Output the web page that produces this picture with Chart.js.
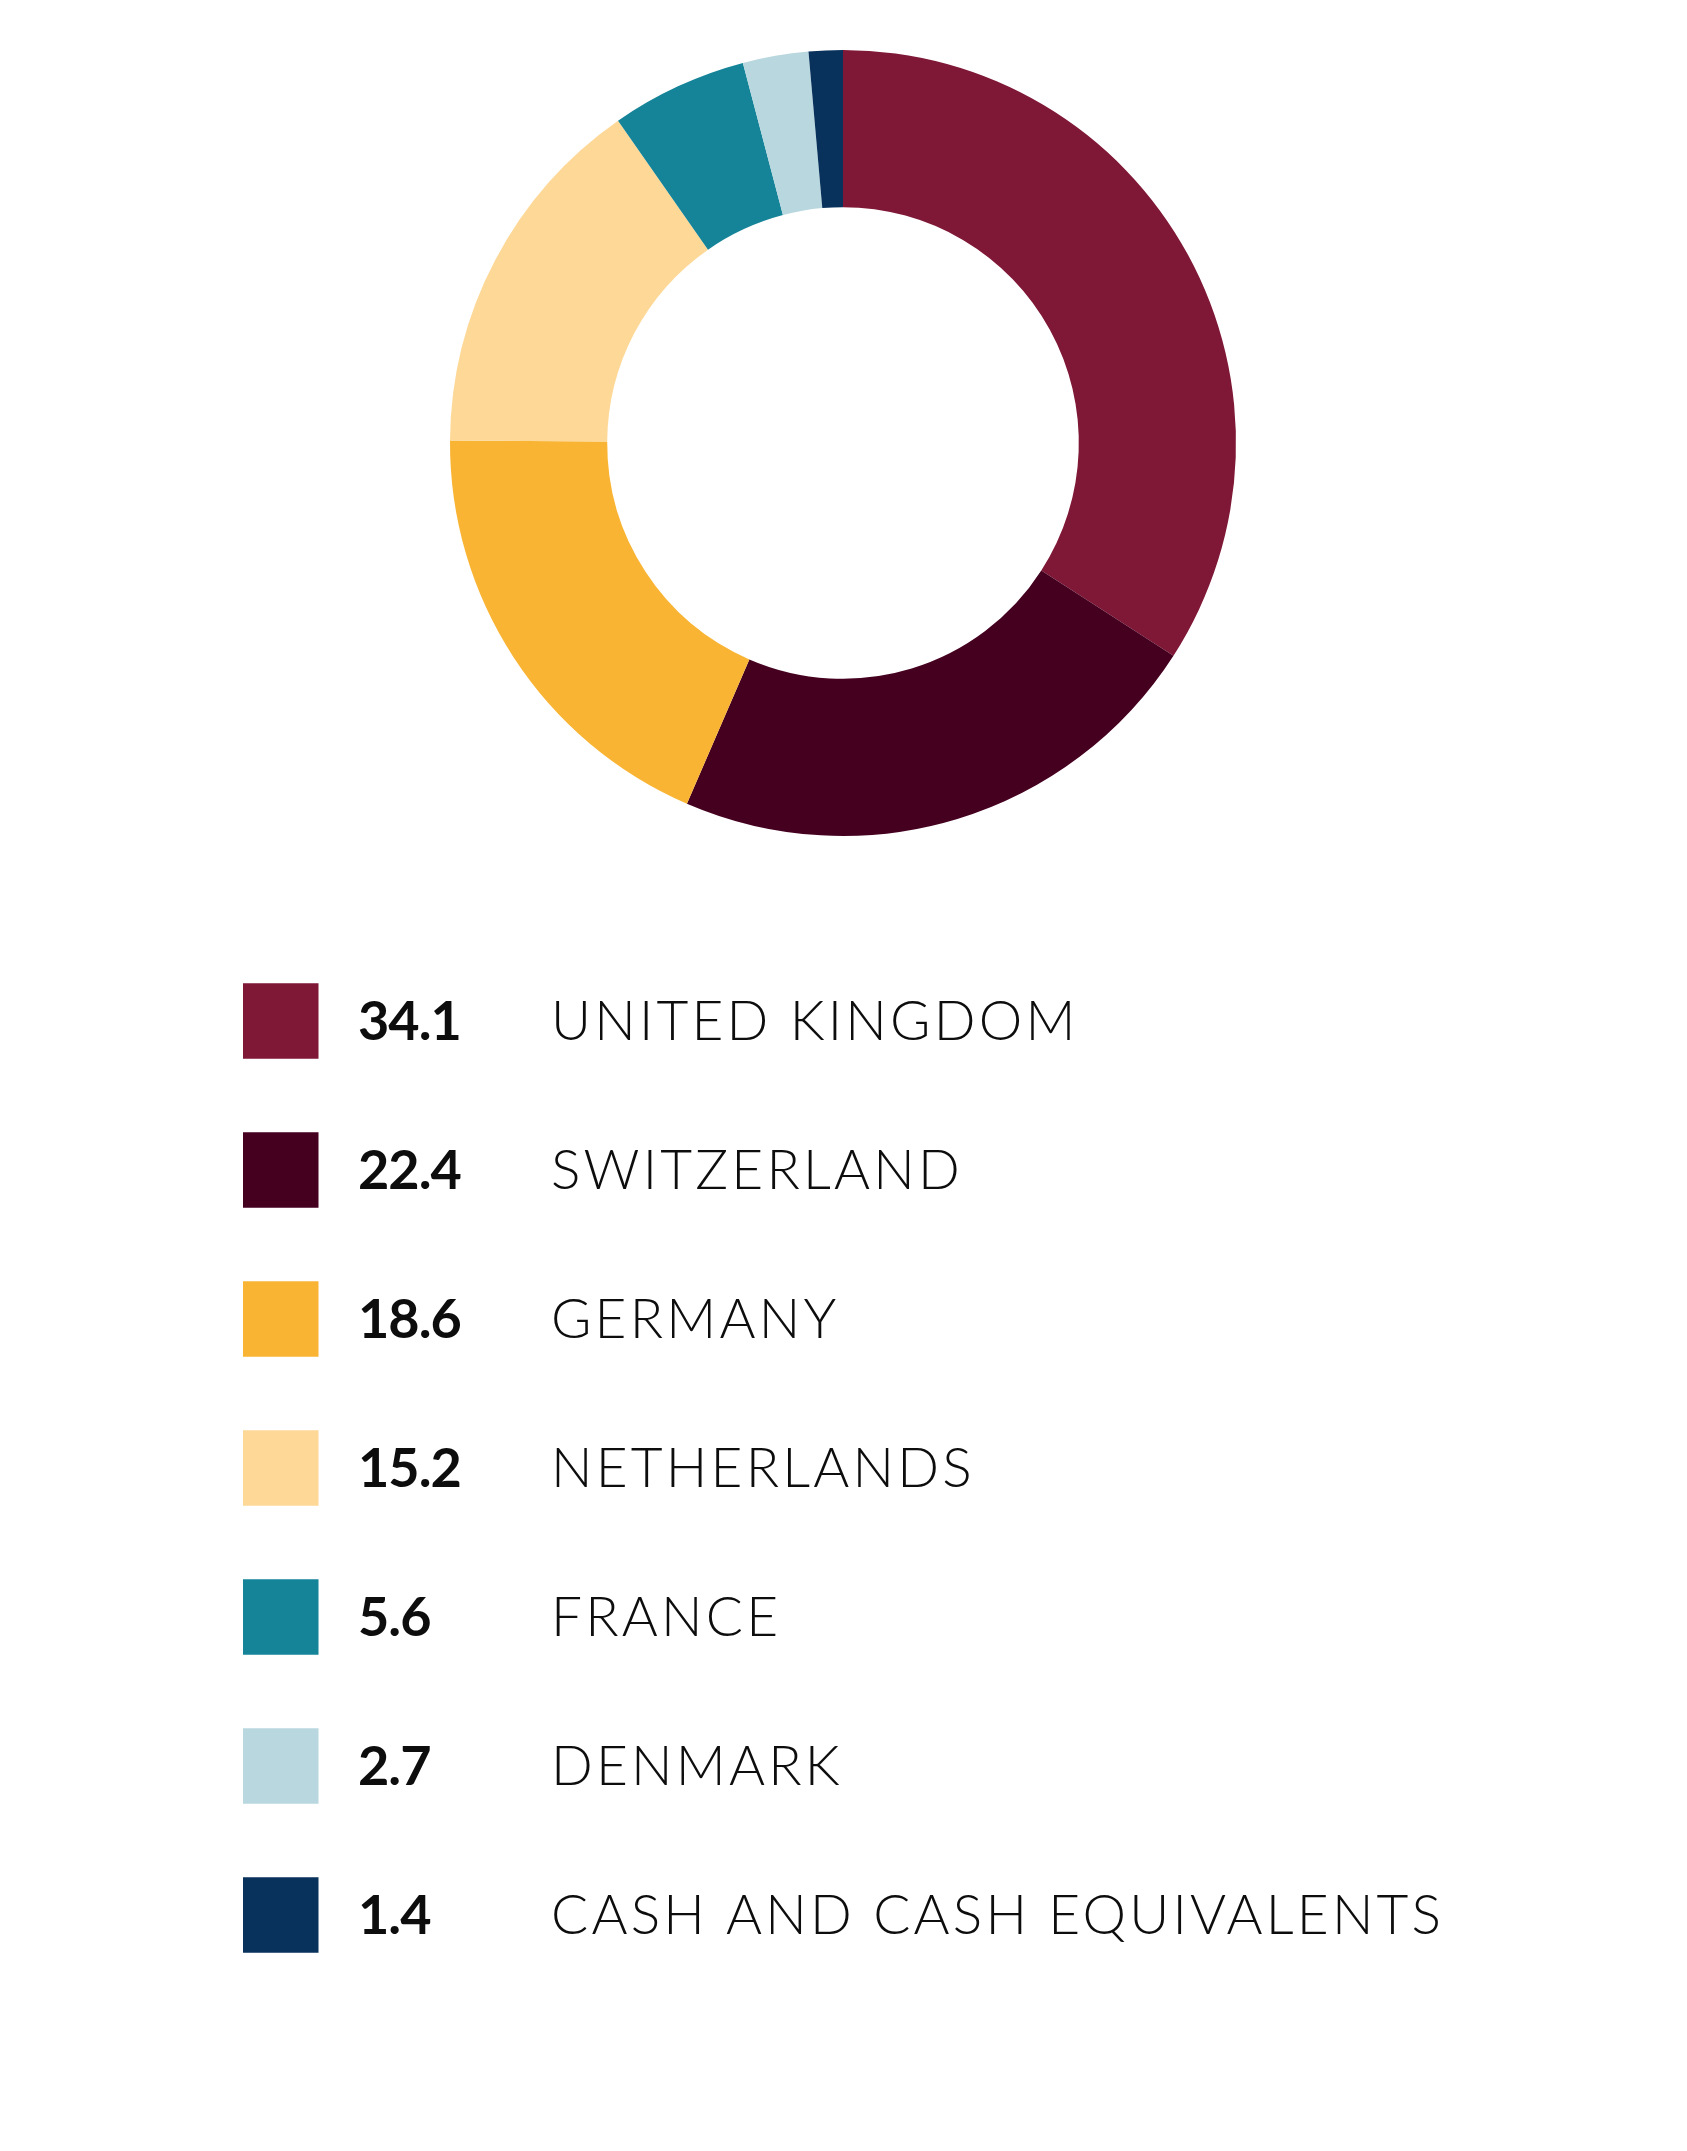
<!DOCTYPE html>
<html>
<head>
<meta charset="utf-8">
<script src="https://cdn.jsdelivr.net/npm/chart.js@4/dist/chart.umd.min.js"></script>
<style>
html,body{margin:0;padding:0;background:#fff;}
#wrap{width:1687px;height:2151px;position:relative;}
</style>
</head>
<body>
<div id="wrap"><canvas id="c" width="1687" height="2151"></canvas></div>
<script>
const categories = ["UNITED KINGDOM","SWITZERLAND","GERMANY","NETHERLANDS","FRANCE","DENMARK","CASH AND CASH EQUIVALENTS"];
const values = [34.1, 22.4, 18.6, 15.2, 5.6, 2.7, 1.4];
const colors = ["#7f1737","#450020","#f9b434","#fed897","#158498","#b9d7df","#08325c"];

const legendPlugin = {
  id: 'tableLegend',
  afterDraw(chart) {
    const ctx = chart.ctx;
    const data = chart.data.datasets[0].data;
    const bg = chart.data.datasets[0].backgroundColor;
    const labels = chart.data.labels;
    const top = 1021, step = 149, sq = 75.5, sqX = 243, numX = 358, labX = 551;
    ctx.save();
    labels.forEach((lab, i) => {
      const cy = top + i * step;
      ctx.fillStyle = bg[i];
      ctx.fillRect(sqX, cy - sq / 2, sq, sq);
      ctx.fillStyle = '#0d0d0d';
      ctx.textBaseline = 'alphabetic';
      ctx.textAlign = 'left';
      ctx.font = 'bold 54px Lato';
      ctx.letterSpacing = '-1px';
      const num = data[i].toFixed(1);
      let m = ctx.measureText('0');
      ctx.fillText(num, numX, cy - 1 + m.actualBoundingBoxAscent / 2);
      ctx.font = '300 55px Lato';
      ctx.letterSpacing = '3.2px';
      m = ctx.measureText('H');
      ctx.fillText(lab, labX, cy - 1 + m.actualBoundingBoxAscent / 2);
    });
    ctx.restore();
  }
};

new Chart(document.getElementById('c'), {
  type: 'doughnut',
  data: {
    labels: categories,
    datasets: [{ data: values, backgroundColor: colors, borderWidth: 0, hoverOffset: 0 }]
  },
  options: {
    responsive: false,
    animation: false,
    cutout: '60%',
    layout: { padding: { top: 50, bottom: 1315, left: 450, right: 451 } },
    plugins: { legend: { display: false }, tooltip: { enabled: false } }
  },
  plugins: [legendPlugin]
});
</script>
</body>
</html>
